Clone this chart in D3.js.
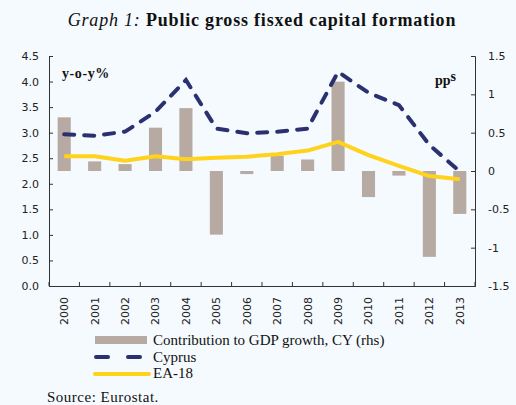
<!DOCTYPE html>
<html lang="en">
<head>
<meta charset="UTF-8" />
<title>Public gross fixed capital formation</title>
<style>
  html, body { margin: 0; padding: 0; background: #f5fafe; }
  svg { display: block; }
  .tick text { font-family: "DejaVu Sans", sans-serif; font-size: 11px; fill: #222; }
  .serif { font-family: "Liberation Serif", "Times New Roman", serif; fill: #111; }
</style>
</head>
<body>
<div id="chart"></div>
<script src="https://cdn.jsdelivr.net/npm/d3@7"></script>
<script>
  // Data
  const years = ["2000","2001","2002","2003","2004","2005","2006","2007","2008","2009","2010","2011","2012","2013"];
  const contribution = [0.70, 0.125, 0.09, 0.565, 0.82, -0.83, -0.04, 0.20, 0.15, 1.165, -0.34, -0.06, -1.12, -0.56]; // rhs, pps
  const cyprus = [2.97, 2.94, 3.02, 3.41, 4.03, 3.08, 2.99, 3.02, 3.08, 4.19, 3.78, 3.54, 2.76, 2.24];
  const ea18 = [2.54, 2.54, 2.45, 2.54, 2.48, 2.51, 2.53, 2.58, 2.65, 2.82, 2.56, 2.35, 2.15, 2.09];
  const leftTicks = [0, 0.5, 1, 1.5, 2, 2.5, 3, 3.5, 4, 4.5];
  const rightTicks = [-1.5, -1, -0.5, 0, 0.5, 1, 1.5];

  const W = 516, H = 405;
  const plot = { left: 49, right: 475, top: 56, bottom: 286 };

  const svg = d3.select("#chart").append("svg")
    .attr("width", W).attr("height", H);

  // Scales
  const x = d3.scaleBand().domain(years).range([plot.left, plot.right]).paddingInner(0.57).paddingOuter(0.285);
  const xBand = d3.scaleBand().domain(years).range([plot.left, plot.right]);
  const yL = d3.scaleLinear().domain([0, 4.5]).range([plot.bottom, plot.top]);
  const yR = d3.scaleLinear().domain([-1.5, 1.5]).range([plot.bottom, plot.top]);

  // Title
  const title = svg.append("text").attr("class", "serif")
    .attr("x", 262).attr("y", 26).attr("text-anchor", "middle")
    .style("font-size", "18px").style("letter-spacing", "0.8px");
  title.append("tspan").style("font-style", "italic").text("Graph 1: ");
  title.append("tspan").style("font-weight", "bold").text("Public gross fisxed capital formation");

  // Bars (right axis)
  svg.append("g").selectAll("rect")
    .data(contribution)
    .join("rect")
    .attr("x", (d, i) => x(years[i]))
    .attr("width", x.bandwidth())
    .attr("y", d => yR(Math.max(0, d)))
    .attr("height", d => Math.abs(yR(d) - yR(0)))
    .attr("fill", "#b6aaa2");

  const cx = (d, i) => xBand(years[i]) + xBand.bandwidth() / 2;

  // Cyprus dashed line
  svg.append("path")
    .datum(cyprus)
    .attr("d", d3.line().x(cx).y(d => yL(d)))
    .attr("fill", "none")
    .attr("stroke", "#2b3170")
    .attr("stroke-width", 4)
    .attr("stroke-linecap", "round")
    .attr("stroke-dasharray", "10 10");

  // EA-18 line
  svg.append("path")
    .datum(ea18)
    .attr("d", d3.line().x(cx).y(d => yL(d)))
    .attr("fill", "none")
    .attr("stroke", "#ffd21c")
    .attr("stroke-width", 4)
    .attr("stroke-linejoin", "round");

  // Axes
  const axisColor = "#333";
  const gL = svg.append("g")
    .attr("transform", `translate(${plot.left},0)`)
    .call(d3.axisLeft(yL).tickValues(leftTicks).tickFormat(d3.format(".1f")).tickSizeInner(-4).tickSizeOuter(-4).tickPadding(10));
  const gR = svg.append("g")
    .attr("transform", `translate(${plot.right},0)`)
    .call(d3.axisRight(yR).tickValues(rightTicks).tickFormat(d => d === 0 ? "0" : String(d)).tickSizeInner(-4).tickSizeOuter(-4).tickPadding(13));
  const gX = svg.append("g")
    .attr("transform", `translate(0,${plot.bottom})`)
    .call(d3.axisBottom(xBand).tickSizeInner(0).tickSizeOuter(0));
  gX.selectAll(".tick line").remove();
  gX.selectAll(".tick text")
    .attr("transform", "rotate(-90)")
    .attr("x", -11).attr("y", 0).attr("dy", "0.35em")
    .attr("text-anchor", "end");
  // Separator ticks between categories
  svg.append("g").selectAll("line")
    .data(years.concat(["end"]))
    .join("line")
    .attr("x1", (d, i) => plot.left + i * xBand.bandwidth())
    .attr("x2", (d, i) => plot.left + i * xBand.bandwidth())
    .attr("y1", plot.bottom).attr("y2", plot.bottom - 4)
    .attr("stroke", axisColor);

  [gL, gR, gX].forEach(g => {
    g.selectAll(".domain").attr("stroke", axisColor);
    g.selectAll(".tick line").attr("stroke", axisColor);
  });

  // Axis unit labels
  svg.append("text").attr("class", "serif")
    .attr("x", 62).attr("y", 78)
    .style("font-size", "14px").style("font-weight", "bold").style("letter-spacing", "0.6px")
    .text("y-o-y%");
  const pps = svg.append("text").attr("class", "serif")
    .attr("x", 435).attr("y", 85)
    .style("font-size", "14px").style("font-weight", "bold");
  pps.append("tspan").text("pp");
  pps.append("tspan").attr("dy", -4).text("s");

  // Legend
  const legend = svg.append("g");
  legend.append("rect").attr("x", 95).attr("y", 336).attr("width", 52).attr("height", 8).attr("fill", "#b6aaa2");
  legend.append("line").attr("x1", 96).attr("x2", 148).attr("y1", 357).attr("y2", 357)
    .attr("stroke", "#2b3170").attr("stroke-width", 4).attr("stroke-linecap", "round").attr("stroke-dasharray", "12 20");
  legend.append("line").attr("x1", 95).attr("x2", 149).attr("y1", 374).attr("y2", 374)
    .attr("stroke", "#ffd21c").attr("stroke-width", 4).attr("stroke-linecap", "round");
  const labels = ["Contribution to GDP growth, CY (rhs)", "Cyprus", "EA-18"];
  legend.selectAll("text.lg")
    .data(labels)
    .join("text")
    .attr("class", "serif lg")
    .attr("x", 153)
    .attr("y", (d, i) => 345 + i * 16.5)
    .style("font-size", "15px")
    .text(d => d);

  // Source
  svg.append("text").attr("class", "serif")
    .attr("x", 47).attr("y", 402)
    .style("font-size", "15px").style("letter-spacing", "0.5px")
    .text("Source: Eurostat.");
</script>
</body>
</html>
